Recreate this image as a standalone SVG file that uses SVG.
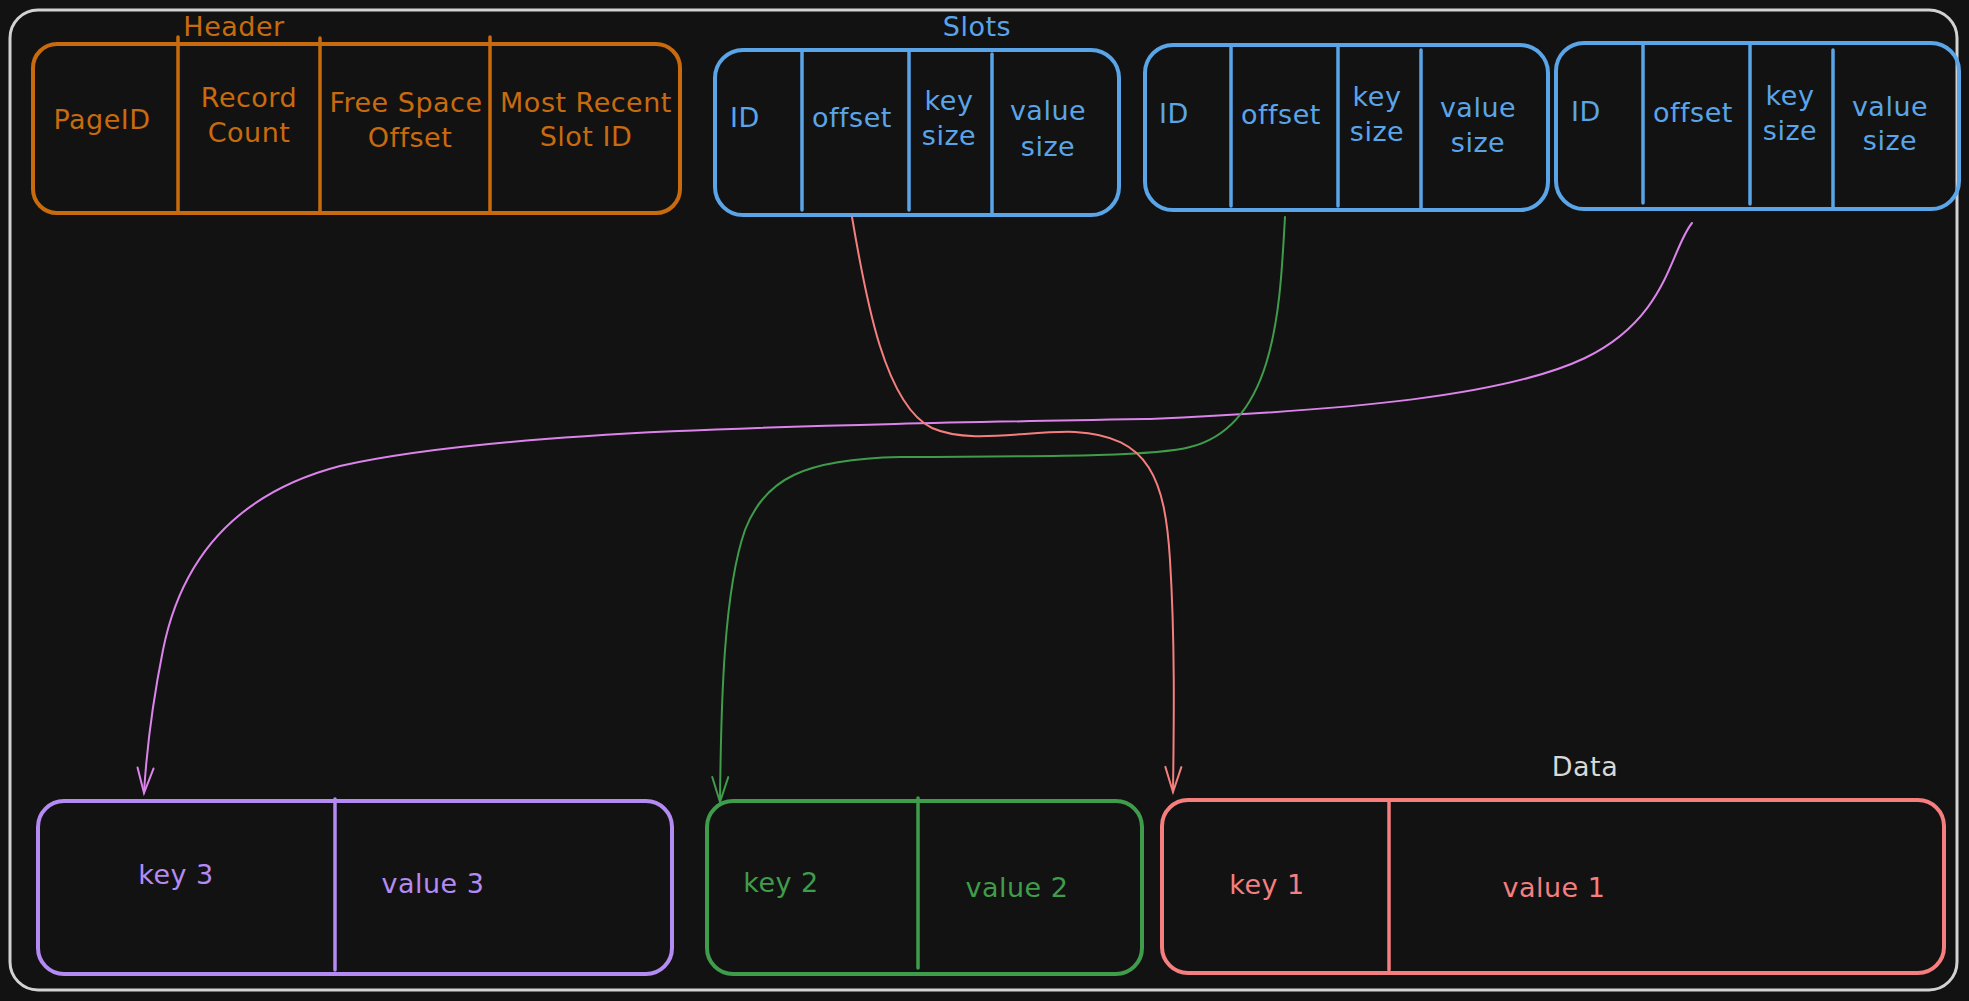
<svg xmlns="http://www.w3.org/2000/svg" width="1969" height="1001" viewBox="0 0 1969 1001">
<defs>
<style>
text{font-family:"DejaVu Sans","Noto Sans",sans-serif;font-size:27px;letter-spacing:0.5px;text-anchor:middle}
.or{fill:#c76b0e}
.bl{fill:#5aa5e8}
.pu{fill:#b48bf3}
.gr{fill:#3f9c4b}
.rd{fill:#f57f7f}
.box{fill:none;stroke-width:4;stroke-linecap:round}
.div{stroke-width:3.5;stroke-linecap:round}
.c{fill:none;stroke-width:2;stroke-linecap:round}
</style>
<marker id="aP" markerUnits="userSpaceOnUse" viewBox="-28 -12 32 24" markerWidth="32" markerHeight="24" refX="0" refY="0" orient="auto"><path d="M-25,-8 L0,0 L-25,8" fill="none" stroke="#dc84ec" stroke-width="2" stroke-linecap="round"/></marker>
<marker id="aG" markerUnits="userSpaceOnUse" viewBox="-28 -12 32 24" markerWidth="32" markerHeight="24" refX="0" refY="0" orient="auto"><path d="M-25,-8 L0,0 L-25,8" fill="none" stroke="#3f9c4b" stroke-width="2" stroke-linecap="round"/></marker>
<marker id="aR" markerUnits="userSpaceOnUse" viewBox="-28 -12 32 24" markerWidth="32" markerHeight="24" refX="0" refY="0" orient="auto"><path d="M-25,-8 L0,0 L-25,8" fill="none" stroke="#f57f7f" stroke-width="2" stroke-linecap="round"/></marker>
</defs>
<rect width="1969" height="1001" fill="#121212"/>
<rect id="frame" x="10" y="10" width="1947" height="980" rx="28" fill="none" stroke="#d2d2d2" stroke-width="3"/>

<g id="header">
<text class="or" x="234" y="36">Header</text>
<rect class="box" x="33" y="44" width="647" height="169" rx="24" stroke="#c76b0e"/>
<g stroke="#c76b0e" class="div">
<line x1="178" y1="37" x2="178" y2="211"/>
<line x1="320" y1="38" x2="320" y2="211"/>
<line x1="490" y1="37" x2="490" y2="211"/>
</g>
<text class="or" x="102" y="129">PageID</text>
<text class="or" x="249" y="107">Record</text>
<text class="or" x="249" y="142">Count</text>
<text class="or" x="406" y="112">Free Space</text>
<text class="or" x="410" y="147">Offset</text>
<text class="or" x="586" y="112">Most Recent</text>
<text class="or" x="586" y="146">Slot ID</text>
</g>

<text id="slots-label" class="bl" x="977" y="36">Slots</text>

<g id="slot1">
<rect class="box" x="715" y="50" width="404" height="165" rx="28" stroke="#5aa5e8"/>
<g stroke="#5aa5e8" class="div">
<line x1="802" y1="52" x2="802" y2="210"/>
<line x1="909" y1="52" x2="909" y2="210"/>
<line x1="992" y1="54" x2="992" y2="213"/>
</g>
<text class="bl" x="745" y="127">ID</text>
<text class="bl" x="852" y="127">offset</text>
<text class="bl" x="949" y="110">key</text>
<text class="bl" x="949" y="145">size</text>
<text class="bl" x="1048" y="120">value</text>
<text class="bl" x="1048" y="156">size</text>
</g>

<g id="slot2">
<rect class="box" x="1145" y="45" width="403" height="165" rx="28" stroke="#5aa5e8"/>
<g stroke="#5aa5e8" class="div">
<line x1="1231" y1="47" x2="1231" y2="206"/>
<line x1="1338" y1="47" x2="1338" y2="206"/>
<line x1="1421" y1="50" x2="1421" y2="208"/>
</g>
<text class="bl" x="1174" y="123">ID</text>
<text class="bl" x="1281" y="124">offset</text>
<text class="bl" x="1377" y="106">key</text>
<text class="bl" x="1377" y="141">size</text>
<text class="bl" x="1478" y="117">value</text>
<text class="bl" x="1478" y="152">size</text>
</g>

<g id="slot3">
<rect class="box" x="1556" y="43" width="403" height="166" rx="28" stroke="#5aa5e8"/>
<g stroke="#5aa5e8" class="div">
<line x1="1643" y1="45" x2="1643" y2="203"/>
<line x1="1750" y1="45" x2="1750" y2="204"/>
<line x1="1833" y1="50" x2="1833" y2="207"/>
</g>
<text class="bl" x="1586" y="121">ID</text>
<text class="bl" x="1693" y="122">offset</text>
<text class="bl" x="1790" y="105">key</text>
<text class="bl" x="1790" y="140">size</text>
<text class="bl" x="1890" y="116">value</text>
<text class="bl" x="1890" y="150">size</text>
</g>

<g id="data3">
<rect class="box" x="38" y="801" width="634" height="173" rx="26" stroke="#b48bf3"/>
<line class="div" x1="335" y1="799" x2="335" y2="970" stroke="#b48bf3"/>
<text class="pu" x="176" y="884">key 3</text>
<text class="pu" x="433" y="893">value 3</text>
</g>

<g id="data2">
<rect class="box" x="707" y="801" width="435" height="173" rx="26" stroke="#3f9c4b"/>
<line class="div" x1="918" y1="798" x2="918" y2="968" stroke="#3f9c4b"/>
<text class="gr" x="781" y="892">key 2</text>
<text class="gr" x="1017" y="897">value 2</text>
</g>

<g id="data1">
<rect class="box" x="1162" y="800" width="782" height="173" rx="26" stroke="#f57f7f"/>
<line class="div" x1="1389" y1="802" x2="1389" y2="970" stroke="#f57f7f"/>
<text class="rd" x="1267" y="894">key 1</text>
<text class="rd" x="1554" y="897">value 1</text>
</g>

<text id="data-label" x="1585" y="776" fill="#d8d8d8">Data</text>

<g id="connectors">
<path class="c" stroke="#dc84ec" marker-end="url(#aP)" d="M1692,223 C1670,250 1668,318 1585,358 C1505,396 1350,410 1150,419 C800,425 500,430 340,466 C210,500 175,590 163,650 C150,715 146,760 144,793"/>
<path class="c" stroke="#3f9c4b" marker-end="url(#aG)" d="M1285,217 C1280,300 1278,425 1190,447 C1150,458 1000,456 900,457 C805,459 765,478 745,530 C724,590 721,700 720,802"/>
<path class="c" stroke="#f57f7f" marker-end="url(#aR)" d="M852,217 C866,300 885,405 932,428 C970,445 1030,430 1075,432 C1150,436 1165,480 1170,560 C1175,640 1174,720 1173,792"/>
</g>
</svg>
